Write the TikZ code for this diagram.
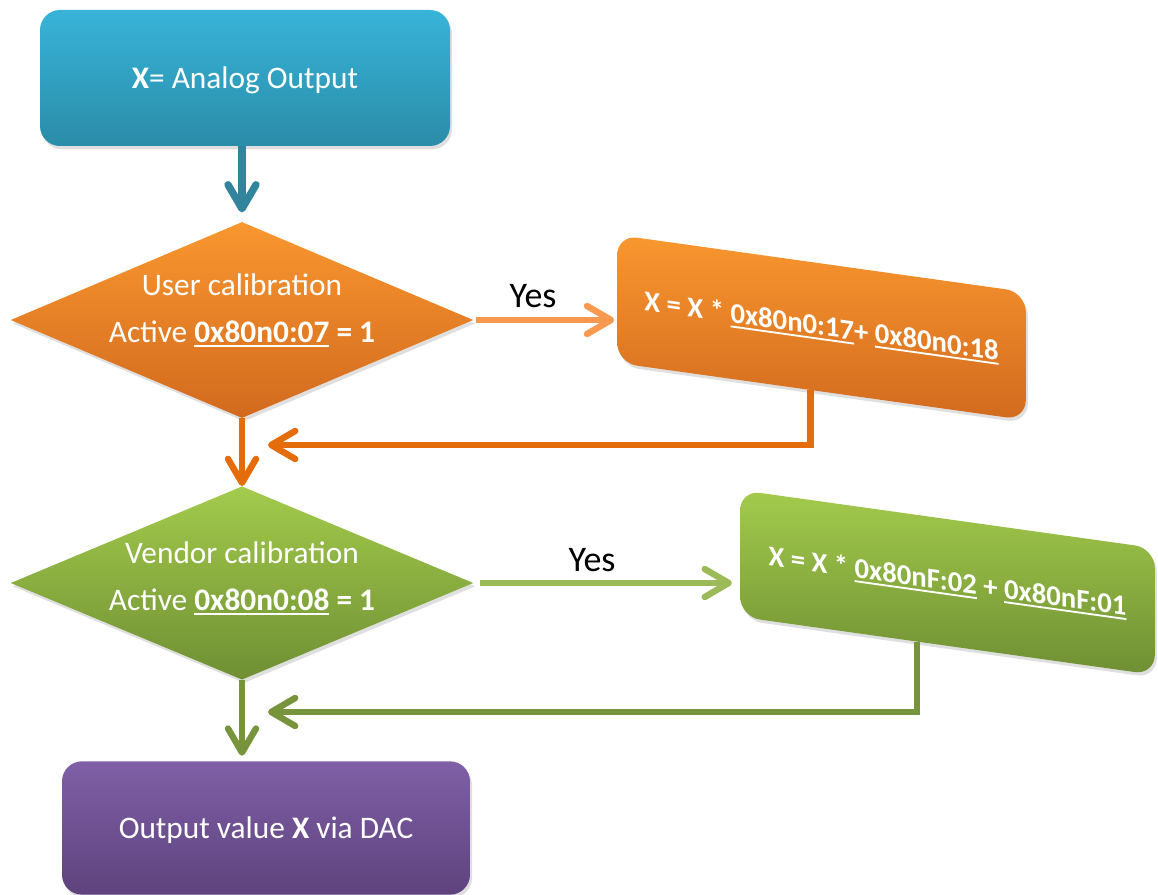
\documentclass[tikz,border=0pt]{standalone}
\usepackage{fontspec}
\setmainfont{Carlito}
\usetikzlibrary{shapes.geometric,arrows.meta,shadows,calc}
\newsavebox\ulbox
\newcommand\ulin[1]{\sbox\ulbox{#1}\rlap{\raisebox{-3.4pt}{\rule{\wd\ulbox}{1.4pt}}}\usebox\ulbox}
\definecolor{cyanT}{HTML}{38B4D8}
\definecolor{cyanB}{HTML}{2A8CA8}
\definecolor{tealL}{HTML}{31849B}
\definecolor{orT}{HTML}{F9972F}
\definecolor{orB}{HTML}{D26A1E}
\definecolor{orLine}{HTML}{E46C0A}
\definecolor{orLight}{HTML}{F79A50}
\definecolor{grT}{HTML}{A3CB4C}
\definecolor{grB}{HTML}{6F8F33}
\definecolor{grLine}{HTML}{77933C}
\definecolor{grLight}{HTML}{9BBB59}
\definecolor{puT}{HTML}{7F5FA6}
\definecolor{puB}{HTML}{5E437E}
\begin{document}
\begin{tikzpicture}[x=0.75pt,y=-0.75pt,
  shad/.style={drop shadow={opacity=0.25,shadow xshift=1.5pt,shadow yshift=-2.5pt}},
  rbox/.style={shad,rounded corners=15pt,inner sep=0pt,text=white,
    text height=16pt,text depth=0.5pt,
    font=\fontsize{23.5}{28}\selectfont},
  dia/.style={shad,diamond,inner sep=0pt},
  dtext/.style={text=white,align=center,inner sep=0pt,
    font=\fontsize{23.5}{35}\selectfont},
  sbox/.style={shad,yslant=-0.14,transform shape,rounded corners=15pt,inner sep=0pt,
    text=white,font=\bfseries\fontsize{21.5}{26}\selectfont},
  tipa/.style={-{Straight Barb[length=18pt,width=21pt,round]}},
  conn/.style={tipa,line width=4.8pt},
  yes/.style={text=black,font=\fontsize{27}{32}\selectfont,inner sep=0pt}
]
\useasboundingbox (0,0) rectangle (1158,895);

% nodes
\node[rbox,top color=cyanT,bottom color=cyanB,minimum width=307.5pt,minimum height=102pt]
  (start) at (245,78) {\textbf{X}= Analog Output};

\node[dia,top color=orT,bottom color=orB,minimum width=347pt,minimum height=147pt]
  (d1) at (242,320) {};
\node[dtext] (d1t) at ([yshift=7pt]d1.center)
  {User calibration\\Active \ulin{\textbf{0x80n0:07}} \textbf{= 1}};

\node[sbox,top color=orT,bottom color=orB,minimum width=306.5pt,minimum height=96pt]
  (o3) at (821.5,327.5) {X = X * \ulin{0x80n0:17}+ \ulin{0x80n0:18}};

\node[dia,top color=grT,bottom color=grB,minimum width=347pt,minimum height=145pt]
  (d2) at (242,583) {};
\node[dtext] (d2t) at ([yshift=3.5pt]d2.center)
  {Vendor calibration\\Active \ulin{\textbf{0x80n0:08}} \textbf{= 1}};

\node[sbox,top color=grT,bottom color=grB,minimum width=311pt,minimum height=95pt]
  (g3) at (947.5,582.5) {X = X * \ulin{0x80nF:02} + \ulin{0x80nF:01}};

\node[rbox,top color=puT,bottom color=puB,minimum width=306pt,minimum height=100pt]
  (end) at (266,828) {Output value \textbf{X} via DAC};

\node[yes] (y1) at (533,296) {Yes};
\node[yes] (y2) at (592,560) {Yes};

\coordinate (r1) at (268,445);
\coordinate (r2) at (268,712);

% connectors
\draw[conn,tealL,line width=5.5pt,shorten >=7pt] (d1.north |- start.south) -- (d1.north);
\draw[conn,orLine] (d1.south) -- (d2.north);
\draw[conn,grLine,shorten >=4pt] (d2.south) -- (d2.south |- end.north);

\draw[conn,orLight,shorten <=2pt,shorten >=2pt] (d1.east) -- (d1.east -| o3.west);
\draw[conn,grLight,shorten <=5pt,shorten >=6pt] (d2.east) -- (d2.east -| g3.west);

\draw[conn,orLine] ($(o3.south west)!0.473!(o3.south east)$) |- (r1);
\draw[conn,grLine] ($(g3.south west)!0.4265!(g3.south east)$) |- (r2);
\end{tikzpicture}
\end{document}
